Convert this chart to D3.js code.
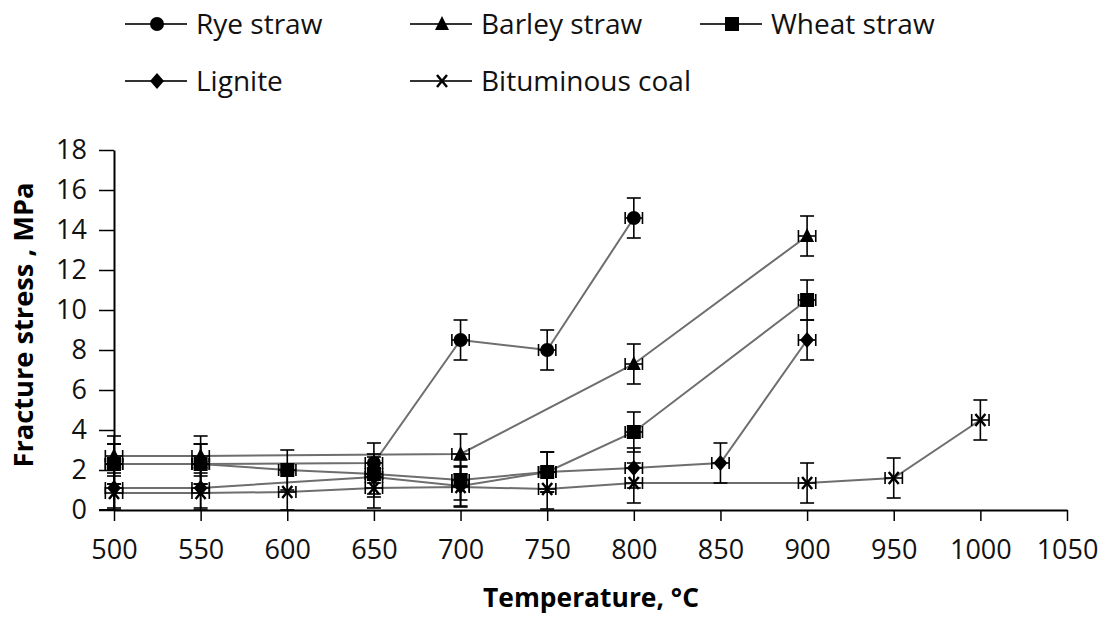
<!DOCTYPE html>
<html>
<head>
<meta charset="utf-8">
<script src="https://cdn.jsdelivr.net/npm/d3@7"></script>
<style>
  body { margin: 0; background: #fff; }
  svg { font-family: "Open Sans", sans-serif; }
</style>
</head>
<body>
<svg id="chart" width="1108" height="621"></svg>
<script>
// data (temperature in °C, fracture stress in MPa, error ±MPa)
const seriesNames = ["Rye straw", "Barley straw", "Wheat straw", "Lignite", "Bituminous coal"];
const seriesSymbols = ["circle", "triangle", "square", "diamond", "cross"];

const ryeTemp = [500, 550, 650, 700, 750, 800];
const ryeStress = [2.3, 2.3, 2.35, 8.5, 8.0, 14.6];
const ryeErr = [1, 1, 1, 1, 1, 1];

const barleyTemp = [500, 550, 700, 800, 900];
const barleyStress = [2.7, 2.7, 2.8, 7.3, 13.7];
const barleyErr = [1, 1, 1, 1, 1];

const wheatTemp = [500, 550, 600, 650, 700, 750, 800, 900];
const wheatStress = [2.3, 2.3, 2.0, 1.8, 1.5, 1.9, 3.9, 10.5];
const wheatErr = [1, 1, 1, 1, 1, 1, 1, 1];

const ligniteTemp = [500, 550, 650, 700, 750, 800, 850, 900];
const ligniteStress = [1.1, 1.1, 1.65, 1.2, 1.9, 2.1, 2.35, 8.5];
const ligniteErr = [1, 1, 1, 1, 1, 1, 1, 1];

const coalTemp = [500, 550, 600, 650, 700, 750, 800, 900, 950, 1000];
const coalStress = [0.85, 0.85, 0.9, 1.1, 1.15, 1.05, 1.35, 1.35, 1.6, 4.5];
const coalErr = [1, 1, 1, 1, 1, 1, 1, 1, 1, 1];

const xTicks = [500, 550, 600, 650, 700, 750, 800, 850, 900, 950, 1000, 1050];
const yTicks = [0, 2, 4, 6, 8, 10, 12, 14, 16, 18];
const tempErr = 5; // horizontal error bar half width, °C

const series = [
  [ryeTemp, ryeStress, ryeErr],
  [barleyTemp, barleyStress, barleyErr],
  [wheatTemp, wheatStress, wheatErr],
  [ligniteTemp, ligniteStress, ligniteErr],
  [coalTemp, coalStress, coalErr]
].map((s, i) => ({
  name: seriesNames[i],
  symbol: seriesSymbols[i],
  points: s[0].map((t, j) => ({ t: t, v: s[1][j], e: s[2][j] }))
}));

const svg = d3.select("#chart");
const x = d3.scaleLinear().domain([500, 1050]).range([114, 1067]);
const y = d3.scaleLinear().domain([0, 18]).range([510, 150]);

function drawSymbol(g, type, cx, cy) {
  if (type === "circle") {
    g.append("circle").attr("cx", cx).attr("cy", cy).attr("r", 7).attr("fill", "#000");
  } else if (type === "square") {
    g.append("rect").attr("x", cx - 7).attr("y", cy - 7).attr("width", 14).attr("height", 14).attr("fill", "#000");
  } else if (type === "triangle") {
    g.append("path").attr("d", `M${cx},${cy - 8}L${cx + 7},${cy + 6}L${cx - 7},${cy + 6}Z`).attr("fill", "#000");
  } else if (type === "diamond") {
    g.append("path").attr("d", `M${cx},${cy - 8}L${cx + 7},${cy}L${cx},${cy + 8}L${cx - 7},${cy}Z`).attr("fill", "#000");
  } else if (type === "cross") {
    g.append("path").attr("d", `M${cx - 5},${cy - 6}L${cx + 5},${cy + 6}M${cx + 5},${cy - 6}L${cx - 5},${cy + 6}`)
      .attr("stroke", "#000").attr("stroke-width", 2.5).attr("fill", "none");
  }
}

// axes
const xAxis = svg.append("g")
  .attr("transform", "translate(0," + y(0) + ")")
  .call(d3.axisBottom(x).tickValues(xTicks).tickFormat(d3.format("d"))
    .tickSize(11).tickSizeOuter(0).tickPadding(19));
const yAxis = svg.append("g")
  .attr("transform", "translate(" + x(500) + ",0)")
  .call(d3.axisLeft(y).tickValues(yTicks).tickSize(15).tickSizeOuter(0).tickPadding(12));

[xAxis, yAxis].forEach(a => {
  a.select(".domain").attr("stroke", "#000").attr("stroke-width", 2);
  a.selectAll(".tick line").attr("stroke", "#000").attr("stroke-width", 1.5);
  a.selectAll(".tick text").attr("fill", "#111")
    .attr("font-family", "'Open Sans', sans-serif");
});
xAxis.selectAll(".tick text").attr("font-size", 27);
yAxis.selectAll(".tick text").attr("font-size", 27);
// x axis baseline extends left to meet y ticks
svg.append("line").attr("x1", x(500) - 15).attr("x2", x(500)).attr("y1", y(0)).attr("y2", y(0))
  .attr("stroke", "#000").attr("stroke-width", 2);

// axis titles
svg.append("text")
  .attr("x", 591).attr("y", 607)
  .attr("text-anchor", "middle")
  .attr("font-size", 27).attr("font-weight", "bold")
  .attr("textLength", 216).attr("lengthAdjust", "spacingAndGlyphs")
  .text("Temperature, °C");
svg.append("text")
  .attr("transform", "translate(33,325) rotate(-90)")
  .attr("text-anchor", "middle")
  .attr("font-size", 27).attr("font-weight", "bold")
  .attr("textLength", 285).attr("lengthAdjust", "spacingAndGlyphs")
  .text("Fracture stress , MPa");

const line = d3.line().x(d => x(d.t)).y(d => y(d.v));

// lines
svg.append("g").selectAll("path")
  .data(series)
  .enter().append("path")
  .attr("d", d => line(d.points))
  .attr("fill", "none")
  .attr("stroke", "#6e6e6e")
  .attr("stroke-width", 2);

// error bars
const eb = svg.append("g").attr("stroke", "#000").attr("stroke-width", 1.6);
series.forEach(s => {
  s.points.forEach(p => {
    const cx = x(p.t), cy = y(p.v);
    const top = y(p.v + p.e), bot = y(Math.max(0, p.v - p.e));
    eb.append("line").attr("x1", cx).attr("x2", cx).attr("y1", top).attr("y2", bot);
    eb.append("line").attr("x1", cx - 7).attr("x2", cx + 7).attr("y1", top).attr("y2", top);
    eb.append("line").attr("x1", cx - 7).attr("x2", cx + 7).attr("y1", bot).attr("y2", bot);
    const l = x(p.t - tempErr), r = x(p.t + tempErr);
    eb.append("line").attr("x1", l).attr("x2", r).attr("y1", cy).attr("y2", cy);
    eb.append("line").attr("x1", l).attr("x2", l).attr("y1", cy - 6).attr("y2", cy + 6);
    eb.append("line").attr("x1", r).attr("x2", r).attr("y1", cy - 6).attr("y2", cy + 6);
  });
});

// markers
const mk = svg.append("g");
series.forEach(s => {
  s.points.forEach(p => drawSymbol(mk, s.symbol, x(p.t), y(p.v)));
});

// legend
const legendPos = [[125, 24], [410, 24], [700, 24], [125, 81], [410, 81]];
const lg = svg.append("g");
series.forEach((s, i) => {
  const [lx, ly] = legendPos[i];
  lg.append("line").attr("x1", lx).attr("x2", lx + 62).attr("y1", ly).attr("y2", ly)
    .attr("stroke", "#333").attr("stroke-width", 2);
  drawSymbol(lg, s.symbol, lx + 32, ly);
  lg.append("text").attr("x", lx + 71).attr("y", ly).attr("dy", "0.35em")
    .attr("font-size", 28).attr("fill", "#111").text(s.name);
});
</script>
</body>
</html>
